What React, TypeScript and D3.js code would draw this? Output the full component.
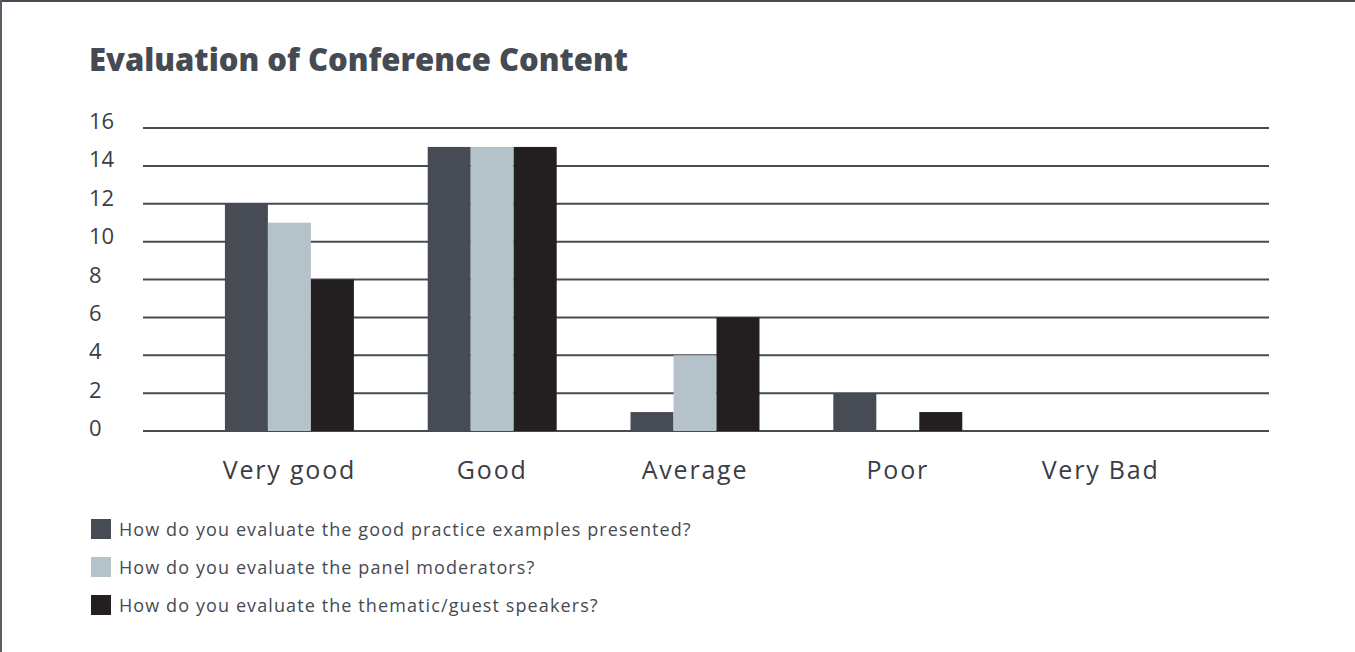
import React from "react";
import * as d3 from "d3";

const categories = ["Very good", "Good", "Average", "Poor", "Very Bad"];
const seriesNames = [
  "How do you evaluate the good practice examples presented?",
  "How do you evaluate the panel moderators?",
  "How do you evaluate the thematic/guest speakers?",
];
const practiceValues = [12, 15, 1, 2, 0];
const moderatorValues = [11, 15, 4, 0, 0];
const speakerValues = [8, 15, 6, 1, 0];
const yTicks = [0, 2, 4, 6, 8, 10, 12, 14, 16];
const colors = ["#474b53", "#b5c2c9", "#231f20"];

const W = 1355;
const H = 652;
const FONT = "'Open Sans', 'Noto Sans', sans-serif";

export default function App() {
  const series = [practiceValues, moderatorValues, speakerValues];
  const y = d3.scaleLinear().domain([0, 16]).range([431, 128]);
  const yLabel = d3.scaleLinear().domain([0, 16]).range([427, 120]);
  const x = d3
    .scaleBand<string>()
    .domain(categories)
    .range([188, 1202])
    .paddingInner(0.364)
    .paddingOuter(0.182);
  const xs = d3
    .scaleBand<number>()
    .domain([0, 1, 2])
    .range([0, x.bandwidth()]);

  return (
    <svg
      width={W}
      height={H}
      style={{ position: "absolute", left: 0, top: 0, background: "#fff" }}
    >
      <rect x={0} y={0} width={W} height={H} fill="#fff" />
      <line x1={0} x2={W} y1={1} y2={1} stroke="#464a52" strokeWidth={2} />
      <line x1={1} x2={1} y1={0} y2={H} stroke="#5a5e66" strokeWidth={2} />
      <text
        x={89}
        y={71}
        fontFamily={FONT}
        fontWeight={800}
        fontSize={31}
        fill="#464a52"
      >
        Evaluation of Conference Content
      </text>
      {yTicks.map((t) => (
        <g key={t}>
          <line
            x1={143}
            x2={1269}
            y1={y(t)}
            y2={y(t)}
            stroke="#464a52"
            strokeWidth={2}
          />
          <text
            x={89}
            y={yLabel(t)}
            fontFamily={FONT}
            fontSize={22}
            fill="#3a3d44"
            dominantBaseline="central"
          >
            {t}
          </text>
        </g>
      ))}
      {categories.map((c, i) => (
        <g key={c} transform={`translate(${x(c)},0)`}>
          {series.map((s, k) =>
            s[i] > 0 ? (
              <rect
                key={k}
                x={xs(k)}
                y={y(s[i])}
                width={xs.bandwidth()}
                height={y(0) - y(s[i])}
                fill={colors[k]}
              />
            ) : null
          )}
          <text
            x={x.bandwidth() / 2}
            y={469}
            textAnchor="middle"
            dominantBaseline="central"
            fontFamily={FONT}
            fontSize={25}
            letterSpacing={1.8}
            fill="#3a3d44"
          >
            {c}
          </text>
        </g>
      ))}
      {seriesNames.map((n, k) => (
        <g key={n} transform={`translate(91,${519 + k * 38})`}>
          <rect width={20} height={20} fill={colors[k]} />
          <text
            x={28}
            y={10}
            dominantBaseline="central"
            fontFamily={FONT}
            fontSize={18}
            letterSpacing={1.1}
            fill="#464a52"
          >
            {n}
          </text>
        </g>
      ))}
    </svg>
  );
}
